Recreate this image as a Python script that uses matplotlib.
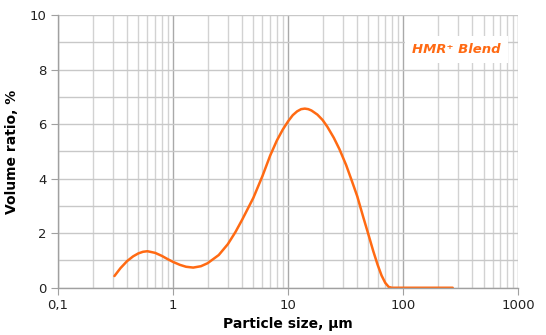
import numpy as np
import matplotlib
matplotlib.use("Agg")
import matplotlib.pyplot as plt
from matplotlib.ticker import FixedLocator, NullFormatter

# particle size (um) and volume ratio (%)
size_um = [0.31, 0.35, 0.40, 0.45, 0.50, 0.55, 0.60, 0.70, 0.80, 0.90,
           1.0, 1.15, 1.3, 1.5, 1.75, 2.0, 2.5, 3.0, 3.5, 4.0,
           5.0, 6.0, 7.0, 8.0, 9.0, 10, 11, 12, 13, 14,
           15, 16, 18, 20, 22, 25, 28, 32, 36, 40,
           45, 50, 55, 60, 65, 70, 75, 80, 100, 150, 200, 270]
volume_pct = [0.43, 0.72, 0.98, 1.15, 1.26, 1.32, 1.34, 1.28, 1.17, 1.05,
              0.95, 0.84, 0.77, 0.74, 0.79, 0.90, 1.20, 1.60, 2.05, 2.50,
              3.30, 4.10, 4.85, 5.40, 5.80, 6.10, 6.33, 6.47, 6.55, 6.57,
              6.55, 6.50, 6.35, 6.15, 5.90, 5.50, 5.08, 4.50, 3.90, 3.35,
              2.60, 1.95, 1.35, 0.85, 0.45, 0.18, 0.03, 0.0, 0.0, 0.0, 0.0, 0.0]

x_ticks = [0.1, 1, 10, 100, 1000]
x_ticklabels = ["0,1", "1", "10", "100", "1000"]
y_ticks = [0, 2, 4, 6, 8, 10]

orange = "#ff6a13"

fig = plt.figure(figsize=(5.46, 3.35), dpi=100)
ax = fig.add_axes([0.106, 0.141, 0.843, 0.814])

ax.set_xscale("log")
ax.set_xlim(0.1, 1000)
ax.set_ylim(0, 10)

# grid: minor decades lighter, majors a bit darker
minor_x = [m * 10.0 ** e for e in range(-1, 3) for m in range(2, 10)]
ax.xaxis.set_major_locator(FixedLocator(x_ticks))
ax.xaxis.set_minor_locator(FixedLocator(minor_x))
ax.xaxis.set_minor_formatter(NullFormatter())
ax.set_xticklabels(x_ticklabels)
ax.yaxis.set_major_locator(FixedLocator(y_ticks))
ax.yaxis.set_minor_locator(FixedLocator([1, 3, 5, 7, 9]))

ax.grid(True, which="major", axis="x", color="#a9a9a9", lw=1.0)
ax.grid(True, which="minor", axis="x", color="#d2d2d2", lw=1.0)
ax.grid(True, which="both", axis="y", color="#c8c8c8", lw=1.0)
ax.set_axisbelow(True)

for s in ["top", "right"]:
    ax.spines[s].set_visible(False)
for s in ["left", "bottom"]:
    ax.spines[s].set_color("#a0a0a0")
    ax.spines[s].set_linewidth(1.0)

ax.tick_params(which="major", length=5, color="#a0a0a0", labelsize=9.5,
               labelcolor="#222222", pad=3)
ax.tick_params(which="minor", length=0)

ax.plot(size_um, volume_pct, color=orange, lw=1.8, solid_capstyle="round")

ax.text(290, 8.72, "HMR\u207a Blend", color=orange, fontsize=9.5,
        fontweight="bold", style="italic", ha="center", va="center",
        bbox=dict(facecolor="white", edgecolor="none", pad=5))

ax.set_xlabel("Particle size, µm", fontsize=10, fontweight="bold", labelpad=4)
ax.set_ylabel("Volume ratio, %", fontsize=10, fontweight="bold", labelpad=8)

fig.savefig("out.png", dpi=100)
